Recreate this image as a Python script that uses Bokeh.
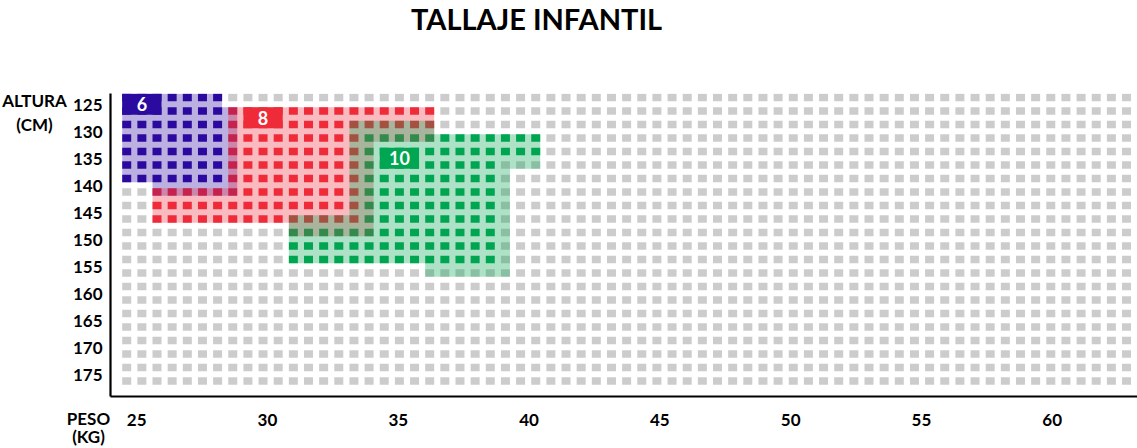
import numpy as np
from bokeh.plotting import figure
from bokeh.models import Range1d, FixedTicker, Label, ColumnDataSource
from bokeh.embed import file_html
from bokeh.resources import INLINE
from bokeh.core.properties import value

# ---------------- data ----------------
TITLE = "TALLAJE INFANTIL"
HEIGHT_TITLE = "ALTURA\n(CM)"
WEIGHT_TITLE = "PESO\n(KG)"
WEIGHT_TICKS = [25, 30, 35, 40, 45, 50, 55, 60]
HEIGHT_TICKS = [125, 130, 135, 140, 145, 150, 155, 160, 165, 170, 175]

SIZE_NAMES = ["6", "8", "10"]
SIZE_COLORS = ["#2b0aa0", "#ef2b3a", "#00a651"]

# solid cells of each size: (weight from, weight to, height from, height to)
CORE_6 = [(24.3, 28.4, 122.5, 140.0)]
CORE_8 = [(28.4, 36.5, 125.0, 130.0), (28.4, 33.6, 125.0, 147.5), (25.5, 33.6, 140.0, 147.5)]
CORE_10 = [(33.6, 40.5, 130.0, 135.0), (33.6, 38.8, 130.0, 155.0), (30.7, 38.8, 147.5, 155.0)]
# shaded range of each size
RANGE_6 = [(24.3, 28.4, 122.5, 140.0), (25.5, 29.0, 125.0, 142.5)]
RANGE_8 = [(28.4, 36.5, 125.0, 132.5), (28.4, 34.2, 125.0, 147.5),
           (25.5, 34.2, 140.0, 147.5), (30.7, 34.2, 145.0, 150.0)]
RANGE_10 = [(33.0, 36.5, 127.5, 155.0), (33.0, 40.5, 130.0, 137.5), (33.0, 39.4, 130.0, 155.0),
            (30.7, 39.4, 145.0, 155.0), (35.9, 39.4, 130.0, 157.5)]
# where each size tag sits (weight, height of its top-left cell)
TAG_WEIGHT = [24.3, 29.0, 34.2]
TAG_HEIGHT = [122.5, 125.0, 132.5]

# ---------------- layout ----------------
X_START, X_END = 24.0, 63.26
Y_TOP, Y_BOTTOM = 122.96, 179.07
N_COLS, COL_FIRST, COL_STEP = 67, 24.62, 0.5791
N_ROWS, ROW_FIRST, ROW_STEP = 22, 123.7, 2.5
SQ_W, SQ_H = 0.344, 1.35
GRAY = "#cccccc"
FONT = "Lato"

xc = COL_FIRST + COL_STEP * np.arange(N_COLS)
yc = ROW_FIRST + ROW_STEP * np.arange(N_ROWS)


def inside(i, j, r):
    w0, w1, h0, h1 = r
    return w0 < xc[i] < w1 and h0 < yc[j] < h1


def outline(rects):
    rows = {}
    for j in range(N_ROWS):
        cols = [i for i in range(N_COLS) if any(inside(i, j, r) for r in rects)]
        if cols:
            rows[j] = (min(cols), max(cols))
    strips = []
    for j in sorted(rows):
        l, r = rows[j]
        if strips and strips[-1][3] == j - 1 and strips[-1][0] == l and strips[-1][1] == r:
            strips[-1][3] = j
        else:
            strips.append([l, r, j, j])
    S = [(xc[l] - SQ_W / 2, xc[r] + SQ_W / 2, yc[a] - SQ_H / 2, yc[b] + SQ_H / 2) for l, r, a, b in strips]
    pts = [(S[0][1], S[0][2])]
    for k in range(len(S) - 1):
        A, B = S[k], S[k + 1]
        y = A[3] if A[1] > B[1] else B[2]
        pts += [(A[1], y), (B[1], y)]
    pts.append((S[-1][1], S[-1][3]))
    pts.append((S[-1][0], S[-1][3]))
    for k in range(len(S) - 2, -1, -1):
        A, B = S[k], S[k + 1]
        y = A[3] if A[0] < B[0] else B[2]
        pts += [(B[0], y), (A[0], y)]
    pts.append((S[0][0], S[0][2]))
    return [q[0] for q in pts], [q[1] for q in pts]


p = figure(width=1137, height=448, output_backend="svg", toolbar_location=None, title=None,
           x_range=Range1d(X_START, X_END), y_range=Range1d(Y_BOTTOM, Y_TOP),
           min_border_left=110, min_border_right=0, min_border_top=93, min_border_bottom=52,
           background_fill_color="white", border_fill_color="white")
p.outline_line_color = None
p.grid.visible = False

# cells
colors = [[GRAY] * N_ROWS for _ in range(N_COLS)]
for core, col in zip([CORE_6, CORE_8, CORE_10], SIZE_COLORS):
    for i in range(N_COLS):
        for j in range(N_ROWS):
            if any(inside(i, j, r) for r in core):
                colors[i][j] = col
L, R, T, B, C = [], [], [], [], []
for i in range(N_COLS):
    for j in range(N_ROWS):
        L.append(xc[i] - SQ_W / 2); R.append(xc[i] + SQ_W / 2)
        T.append(yc[j] - SQ_H / 2); B.append(yc[j] + SQ_H / 2)
        C.append(colors[i][j])
p.quad(source=ColumnDataSource(dict(l=L, r=R, t=T, b=B, c=C)),
       left="l", right="r", top="t", bottom="b", fill_color="c", line_color=None)

# shaded ranges
for rng, col in zip([RANGE_6, RANGE_8, RANGE_10], SIZE_COLORS):
    xs, ys = outline(rng)
    p.patch(xs, ys, fill_color=col, fill_alpha=0.32, line_color=None)

# tags
for name, col, tw, th in zip(SIZE_NAMES, SIZE_COLORS, TAG_WEIGHT, TAG_HEIGHT):
    i0 = int(np.argmax(xc > tw))
    j0 = int(np.argmax(yc > th))
    l = xc[i0] - SQ_W / 2; r = xc[i0 + 2] + SQ_W / 2
    t = yc[j0] - SQ_H / 2; b = yc[j0 + 1] + SQ_H / 2
    p.quad(left=[l], right=[r], top=[t], bottom=[b], fill_color=col, line_color=None)
    p.text(x=[(l + r) / 2], y=[(t + b) / 2], text=[name], text_color="white",
           text_font=value(FONT), text_font_style="bold", text_font_size="18px",
           text_align="center", text_baseline="middle")

# axes
for ax in (p.xaxis[0], p.yaxis[0]):
    ax.axis_line_color = "black"
    ax.axis_line_width = 2.2
    ax.major_tick_line_color = None
    ax.minor_tick_line_color = None
    ax.major_tick_out = 0
    ax.major_tick_in = 0
    ax.minor_tick_out = 0
    ax.minor_tick_in = 0
    ax.major_label_text_font = FONT
    ax.major_label_text_font_style = "bold"
    ax.major_label_text_font_size = "17px"
    ax.major_label_text_color = "black"
p.xaxis.ticker = FixedTicker(ticks=WEIGHT_TICKS)
p.yaxis.ticker = FixedTicker(ticks=HEIGHT_TICKS)
p.xaxis.major_label_standoff = 17
p.yaxis.major_label_standoff = 8

# texts outside the frame (side panels, so they are not clipped)
p.add_layout(Label(x=426, y=75, x_units="screen", y_units="screen", text=TITLE,
                   text_font=FONT, text_font_style="bold", text_font_size="29px",
                   text_align="center", text_baseline="middle", text_color="black"), "above")
p.add_layout(Label(x=-22, y=-369, x_units="screen", y_units="screen", text=WEIGHT_TITLE,
                   text_font=FONT, text_font_style="bold", text_font_size="17px",
                   text_align="center", text_baseline="middle", text_color="black",
                   text_line_height=0.88), "above")
p.add_layout(Label(x=30, y=284, x_units="screen", y_units="screen", text=HEIGHT_TITLE,
                   text_font=FONT, text_font_style="bold", text_font_size="17px",
                   text_align="center", text_baseline="middle", text_color="black",
                   text_line_height=1.1), "left")

open("out.html", "w").write(file_html(p, INLINE))
